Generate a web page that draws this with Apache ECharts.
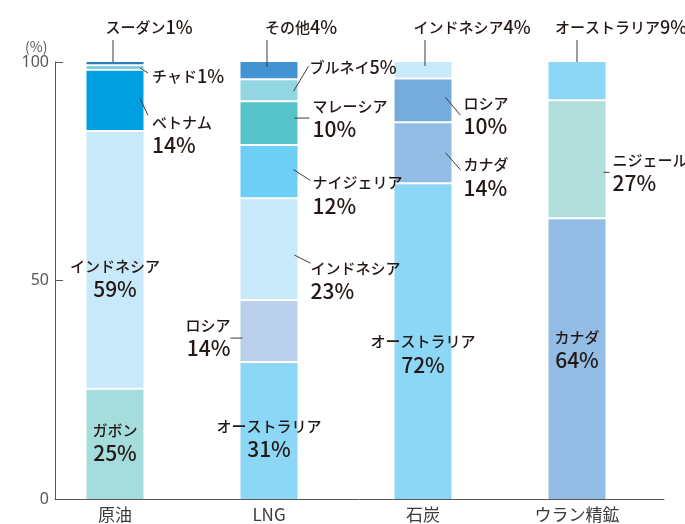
<!DOCTYPE html>
<html lang="ja">
<head>
<meta charset="UTF-8">
<title>輸入先の内訳</title>
<style>
    *{margin:0;padding:0;}
    #main{width:685px;height:524px;}
</style>
</head>
<body>
<div id="main"></div>
<script src="https://cdn.jsdelivr.net/npm/echarts@6/dist/echarts.min.js"></script>
<script>
// カテゴリと目盛
var categories = ['原油', 'LNG', '石炭', 'ウラン精鉱'];
var yTicks = [0, 50, 100];

// 構成比（下から積み上げ順）
var crudeNames = ['ガボン', 'インドネシア', 'ベトナム', 'チャド', 'スーダン'];
var crudeValues = [25, 59, 14, 1, 1];
var lngNames = ['オーストラリア', 'ロシア', 'インドネシア', 'ナイジェリア', 'マレーシア', 'ブルネイ', 'その他'];
var lngValues = [31.1, 14.2, 23.3, 12.2, 10, 5, 4.2];
var coalNames = ['オーストラリア', 'カナダ', 'ロシア', 'インドネシア'];
var coalValues = [72, 14, 10, 4];
var uraniumNames = ['カナダ', 'ニジェール', 'オーストラリア'];
var uraniumValues = [64, 27, 9];

// 色
var crudeColors = ['#a5dcdc', '#c7e9f9', '#009fe2', '#6fcbd3', '#2b7dc3'];
var lngColors = ['#8cd7f6', '#b9cfec', '#c7e9f9', '#6dcff6', '#56c3c9', '#92d6e2', '#4293d2'];
var coalColors = ['#8cd7f6', '#93bde5', '#76acdd', '#c7e9f9'];
var uraniumColors = ['#93bde5', '#b1dedb', '#8cd7f6'];

// ラベル配置（px）
var crudeLabels = [
    {mode: 'in', dy: -2},
    {mode: 'in', dy: 17},
    {mode: 'right', dx: 8.5, dy: 10, line: [-3.5, -3, 4.5, 14]},
    {mode: 'right1', dx: 8.5, dy: 8, line: [-3.5, -0.6, 4.5, 4.4]},
    {mode: 'top', dx: 34, lx: -2, l0: 0}
];
var lngLabels = [
    {mode: 'in', dy: 7},
    {mode: 'left', dx: -10, dy: -18, line: [-10, 6, 2, 6]},
    {mode: 'right', dx: 13, dy: 7, line: [-3, 5, 13, 13]},
    {mode: 'right', dx: 15, dy: -1, line: [-4, -3, 13, 8]},
    {mode: 'right', dx: 15, dy: -29, line: [-3, -6, 12, -6]},
    {mode: 'right1', dx: 12, dy: -24, line: [-4, 0, 11, -25]},
    {mode: 'top', dx: 32, lx: -2, l0: 5}
];
var coalLabels = [
    {mode: 'in', dy: 12},
    {mode: 'right', dx: 12, dy: 0, line: [-6, -1, 9, 16]},
    {mode: 'right', dx: 12, dy: -9, line: [-6, -4, 9, 14]},
    {mode: 'top', dx: 49, lx: 2, l0: 4}
];
var uraniumLabels = [
    {mode: 'in', dy: -10},
    {mode: 'right', dx: 7, dy: -11, line: [-2, 12, 4, 12]},
    {mode: 'top', dx: 44, lx: 0, l0: 0}
];

var groups = [
    {names: crudeNames, values: crudeValues, colors: crudeColors, labels: crudeLabels},
    {names: lngNames, values: lngValues, colors: lngColors, labels: lngLabels},
    {names: coalNames, values: coalValues, colors: coalColors, labels: coalLabels},
    {names: uraniumNames, values: uraniumValues, colors: uraniumColors, labels: uraniumLabels}
];

// [カテゴリ, 下端, 上端, 区分]
var rows = [];
groups.forEach(function (g, ci) {
    var base = 0;
    g.values.forEach(function (v, si) {
        rows.push([ci, base, base + v, si]);
        base += v;
    });
});

var BAR_W = 57;
var FONT = '"Noto Sans CJK JP", "Noto Sans", sans-serif';
var TEXT_COLOR = '#231815';
var rich = {
    n: {fontSize: 15, fontFamily: FONT, fontWeight: 500, fill: TEXT_COLOR, lineHeight: 22},
    p: {fontSize: 21, fontFamily: FONT, fontWeight: 500, fill: TEXT_COLOR, lineHeight: 24},
    m: {fontSize: 15, fontFamily: FONT, fontWeight: 500, fill: TEXT_COLOR, lineHeight: 22},
    t: {fontSize: 18, fontFamily: FONT, fontWeight: 500, fill: TEXT_COLOR, lineHeight: 22}
};

function leader(x1, y1, x2, y2) {
    return {type: 'line', shape: {x1: x1, y1: y1, x2: x2, y2: y2},
        style: {stroke: '#3e3a39', lineWidth: 1}};
}

function renderSegment(params, api) {
    var ci = api.value(0), si = api.value(3);
    var g = groups[ci], lab = g.labels[si];
    var bottom = api.coord([ci, api.value(1)]);
    var top = api.coord([ci, api.value(2)]);
    var cx = bottom[0], lx = cx - BAR_W / 2, rx = cx + BAR_W / 2;
    var ty = top[1], by = bottom[1], my = (ty + by) / 2;
    var pct = Math.round(g.values[si]) + '%';
    var gap = si === 0 ? 0 : 2;
    var children = [{
        type: 'rect',
        shape: {x: lx, y: ty, width: BAR_W, height: Math.max(by - ty - gap, 1)},
        style: {fill: g.colors[si]}
    }];
    var two = '{n|' + g.names[si] + '}\n{p|' + pct + '}';
    var one = '{m|' + g.names[si] + '}{t|' + pct + '}';
    var txt;
    if (lab.mode === 'in') {
        txt = {x: cx, y: my + lab.dy, text: two, align: 'center', verticalAlign: 'middle'};
    } else if (lab.mode === 'right') {
        txt = {x: rx + lab.dx, y: my + lab.dy, text: two, align: 'left', verticalAlign: 'top'};
        children.push(leader(rx + lab.line[0], my + lab.line[1], rx + lab.line[2], my + lab.line[3]));
    } else if (lab.mode === 'right1') {
        txt = {x: rx + lab.dx, y: my + lab.dy, text: one, align: 'left', verticalAlign: 'middle'};
        children.push(leader(rx + lab.line[0], my + lab.line[1], rx + lab.line[2], my + lab.line[3]));
    } else if (lab.mode === 'left') {
        txt = {x: lx + lab.dx, y: my + lab.dy, text: two, align: 'right', verticalAlign: 'top'};
        children.push(leader(lx + lab.line[0], my + lab.line[1], lx + lab.line[2], my + lab.line[3]));
    } else {
        txt = {x: cx + lab.dx, y: ty - 35, text: one, align: 'center', verticalAlign: 'middle'};
        children.push(leader(cx + lab.lx, ty + lab.l0, cx + lab.lx, ty - 22));
    }
    txt.rich = rich;
    txt.fill = TEXT_COLOR;
    children.push({type: 'text', z2: 10, style: txt});
    return {type: 'group', children: children};
}

var myChart = echarts.init(document.getElementById('main'));
var option = {
    animation: false,
    title: {
        text: '(%)',
        left: 20,
        top: 35,
        textStyle: {color: '#595757', fontSize: 14, fontWeight: 'normal', fontFamily: FONT}
    },
    grid: {left: 55, right: 21, top: 62, bottom: 25},
    xAxis: {
        type: 'value',
        min: -0.3896,
        max: 3.565,
        splitLine: {show: false},
        axisTick: {show: false},
        axisLine: {show: true, onZero: false, lineStyle: {color: '#595757', width: 1}},
        axisLabel: {
            customValues: [0, 1, 2, 3],
            formatter: function (v) { return categories[Math.round(v)] || ''; },
            color: '#3e3a39',
            fontSize: 17,
            fontFamily: FONT,
            margin: 7
        }
    },
    yAxis: {
        type: 'value',
        min: yTicks[0],
        max: yTicks[yTicks.length - 1],
        interval: yTicks[1] - yTicks[0],
        splitLine: {show: false},
        axisLine: {show: true, onZero: false, lineStyle: {color: '#595757', width: 1}},
        axisTick: {show: true, inside: true, length: 8, lineStyle: {color: '#595757'}},
        axisLabel: {color: '#595757', fontSize: 16, fontFamily: '"Noto Sans", sans-serif', margin: 6}
    },
    series: [{
        type: 'custom',
        clip: false,
        renderItem: renderSegment,
        encode: {x: 0, y: [1, 2]},
        data: rows
    }]
};
myChart.setOption(option);
</script>
</body>
</html>
